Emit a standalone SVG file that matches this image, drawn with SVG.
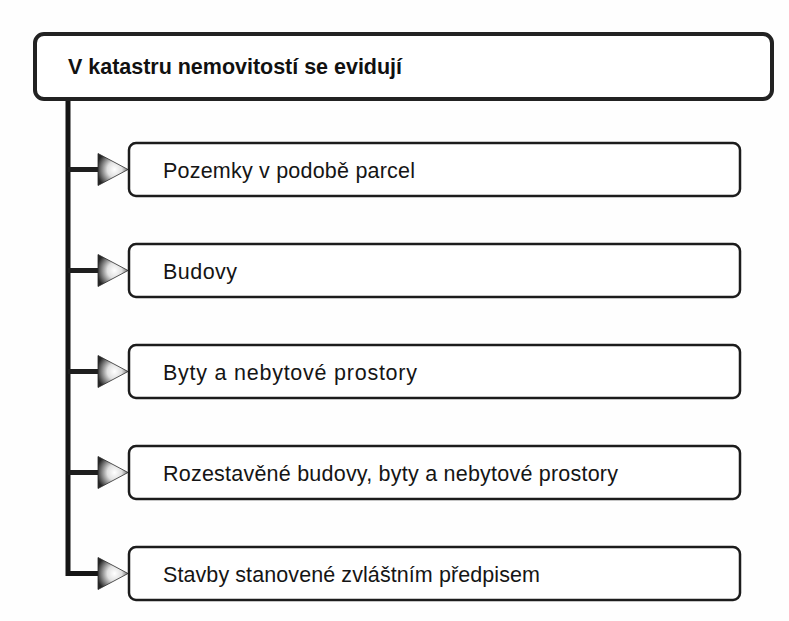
<svg xmlns="http://www.w3.org/2000/svg" width="789" height="621" viewBox="0 0 789 621">
  <defs>
    <radialGradient id="tri" cx="0.55" cy="0.5" r="0.6">
      <stop offset="0" stop-color="#ffffff"/>
      <stop offset="0.4" stop-color="#e0e0e0"/>
      <stop offset="1" stop-color="#262626"/>
    </radialGradient>
    <style>
      .bg { fill: #fefefe; }
      .top { fill: #ffffff; stroke: #222222; stroke-width: 4; }
      .box { fill: #ffffff; stroke: #1c1c1c; stroke-width: 2.5; }
      .title { font-family: "Liberation Sans", Arial, sans-serif; font-weight: bold; font-size: 21.5px; fill: #111111; }
      .lbl { font-family: "Liberation Sans", Arial, sans-serif; font-size: 21.5px; fill: #151515; }
      .line { fill: none; stroke: #151515; stroke-width: 5; stroke-linejoin: miter; }
      .stub { stroke: #1e1e1e; stroke-width: 5; }
      .arrow { fill: url(#tri); stroke: #2a2a2a; stroke-width: 0.8; }
    </style>
  </defs>
  <rect class="bg" x="0" y="0" width="789" height="621"/>

  <g id="connectors">
    <path class="line" d="M68 99 V573.5 H99"/>
    <line class="stub" x1="68" y1="169.5" x2="99" y2="169.5"/>
    <line class="stub" x1="68" y1="270.5" x2="99" y2="270.5"/>
    <line class="stub" x1="68" y1="371.5" x2="99" y2="371.5"/>
    <line class="stub" x1="68" y1="472.5" x2="99" y2="472.5"/>
    <polygon class="arrow" points="98,153.5 128,169.5 98,185.5"/>
    <polygon class="arrow" points="98,254.5 128,270.5 98,286.5"/>
    <polygon class="arrow" points="98,355.5 128,371.5 98,387.5"/>
    <polygon class="arrow" points="98,456.5 128,472.5 98,488.5"/>
    <polygon class="arrow" points="98,557.5 128,573.5 98,589.5"/>
  </g>

  <g id="root">
    <rect class="top" x="35" y="34" width="737" height="65" rx="9"/>
    <text class="title" x="68" y="74" textLength="334">V katastru nemovitostí se evidují</text>
  </g>

  <g id="n1">
    <rect class="box" x="129" y="143" width="611" height="53" rx="7"/>
    <text class="lbl" x="163" y="177.5" textLength="252">Pozemky v podobě parcel</text>
  </g>
  <g id="n2">
    <rect class="box" x="129" y="244" width="611" height="53" rx="7"/>
    <text class="lbl" x="163" y="278.5" textLength="74">Budovy</text>
  </g>
  <g id="n3">
    <rect class="box" x="129" y="345" width="611" height="53" rx="7"/>
    <text class="lbl" x="163" y="379.5" textLength="254">Byty a nebytové prostory</text>
  </g>
  <g id="n4">
    <rect class="box" x="129" y="446" width="611" height="53" rx="7"/>
    <text class="lbl" x="163" y="480.5" textLength="455">Rozestavěné budovy, byty a nebytové prostory</text>
  </g>
  <g id="n5">
    <rect class="box" x="129" y="547" width="611" height="53" rx="7"/>
    <text class="lbl" x="163" y="581.5" textLength="377">Stavby stanovené zvláštním předpisem</text>
  </g>
</svg>
